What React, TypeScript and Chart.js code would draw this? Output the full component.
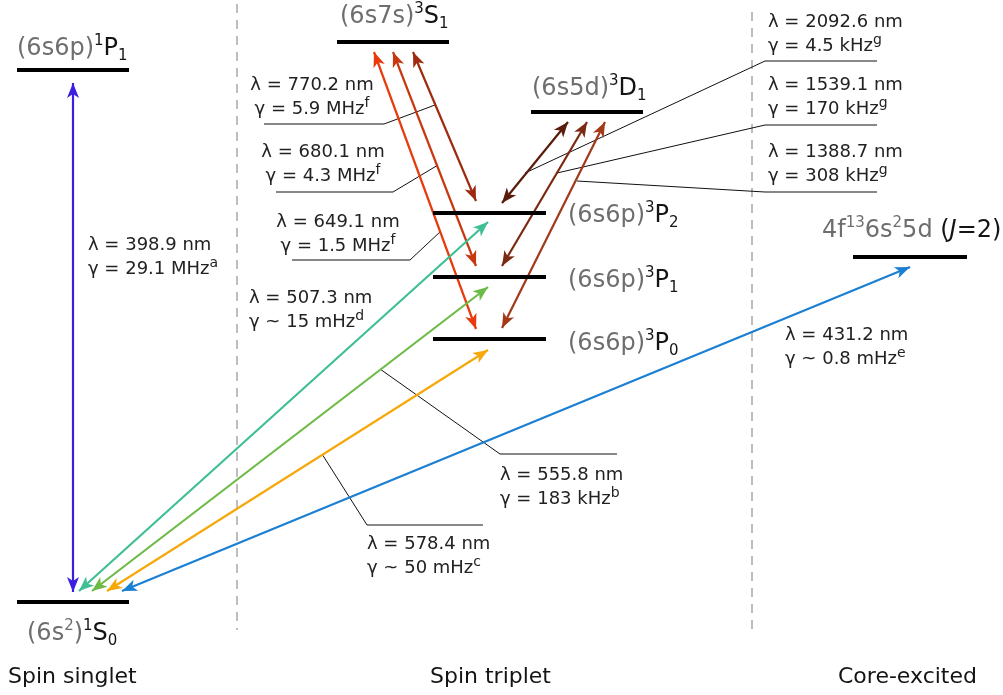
import React, { useEffect, useRef } from 'react';
import { Chart, registerables } from 'chart.js';

Chart.register(...registerables);

const FONT = '"DejaVu Sans", "Liberation Sans", sans-serif';
const GRAY = '#6e6e6e';
const INK = '#141414';
const NOTE_INK = '#222222';

// ---- Energy levels (diagram coordinates) ----
const levelKeys = ['1S0', '1P1', '3S1', '3D1', '3P2', '3P1', '3P0', 'core'];
const levelStart = [17, 17, 337, 531, 433, 433, 433, 853];
const levelEnd = [129, 129, 449, 643, 546, 546, 546, 967];
const levelY = [602, 70, 42, 112, 213, 277, 339, 257];

// ---- Transitions (double-headed arrows) ----
const transLambda = ['398.9', '507.3', '555.8', '578.4', '431.2', '649.1', '680.1', '770.2', '2092.6', '1539.1', '1388.7'];
const transColor = ['#3a1fe0', '#3fbf92', '#6dbb46', '#f6a80b', '#1b7fd3', '#e83a0c', '#c8380f', '#9e2a0f', '#5b1c0b', '#7b2911', '#a23a1a'];
const transX1 = [73, 79, 92, 107, 122, 374, 393, 413, 568, 587, 605];
const transY1 = [592, 591, 591, 591, 591, 52, 52, 52, 122, 122, 122];
const transX2 = [73, 488, 488, 488, 910, 476, 476, 476, 502, 502, 502];
const transY2 = [83, 222, 287, 350, 267, 329, 266, 201, 203, 266, 328];

// ---- Annotation texts ----
const noteLambda = ['λ = 398.9 nm', 'λ = 507.3 nm', 'λ = 555.8 nm', 'λ = 578.4 nm', 'λ = 431.2 nm', 'λ = 649.1 nm', 'λ = 680.1 nm', 'λ = 770.2 nm', 'λ = 2092.6 nm', 'λ = 1539.1 nm', 'λ = 1388.7 nm'];
const noteGamma = ['γ = 29.1 MHz', 'γ ~ 15 mHz', 'γ = 183 kHz', 'γ ~ 50 mHz', 'γ ~ 0.8 mHz', 'γ = 1.5 MHz', 'γ = 4.3 MHz', 'γ = 5.9 MHz', 'γ = 4.5 kHz', 'γ = 170 kHz', 'γ = 308 kHz'];
const noteRef = ['a', 'd', 'b', 'c', 'e', 'f', 'f', 'f', 'g', 'g', 'g'];
const noteX = [88, 249, 500, 367, 785, 338, 323, 312, 768, 768, 768];
const noteY = [250, 303, 480, 549, 340, 227, 157, 90, 27, 90, 157];
const noteAlign = ['left', 'left', 'left', 'left', 'left', 'center', 'center', 'center', 'left', 'left', 'left'];

// ---- Leader lines ----
const leaderX = [[264, 384, 435], [276, 393, 438], [292, 410, 441], [617, 500, 380], [483, 367, 322], [877, 765, 525], [877, 765, 557], [877, 765, 577]];
const leaderY = [[124, 124, 105], [192, 192, 165], [260, 260, 231], [454, 454, 369], [525, 525, 454], [61, 61, 173], [125, 125, 173], [192, 192, 181]];

// ---- Column separators ----
const dividerX = [237, 752];
const dividerTop = [4, 12];
const dividerBottom = [630, 630];

// ---- Column titles ----
const columnTitles = ['Spin singlet', 'Spin triplet', 'Core-excited'];
const columnTitleX = [8, 430, 838];
const columnTitleY = 683;

type Run = { t: string; c?: string; s?: 'sup' | 'sub'; i?: boolean };

const levelLabelRuns: Run[][] = [
  [{ t: '(6s', c: GRAY }, { t: '2', c: GRAY, s: 'sup' }, { t: ')', c: GRAY }, { t: '1', s: 'sup' }, { t: 'S' }, { t: '0', s: 'sub' }],
  [{ t: '(6s6p)', c: GRAY }, { t: '1', s: 'sup' }, { t: 'P' }, { t: '1', s: 'sub' }],
  [{ t: '(6s7s)', c: GRAY }, { t: '3', s: 'sup' }, { t: 'S' }, { t: '1', s: 'sub' }],
  [{ t: '(6s5d)', c: GRAY }, { t: '3', s: 'sup' }, { t: 'D' }, { t: '1', s: 'sub' }],
  [{ t: '(6s6p)', c: GRAY }, { t: '3', s: 'sup' }, { t: 'P' }, { t: '2', s: 'sub' }],
  [{ t: '(6s6p)', c: GRAY }, { t: '3', s: 'sup' }, { t: 'P' }, { t: '1', s: 'sub' }],
  [{ t: '(6s6p)', c: GRAY }, { t: '3', s: 'sup' }, { t: 'P' }, { t: '0', s: 'sub' }],
  [{ t: '4f', c: GRAY }, { t: '13', c: GRAY, s: 'sup' }, { t: '6s', c: GRAY }, { t: '2', c: GRAY, s: 'sup' }, { t: '5d', c: GRAY }, { t: ' (' }, { t: 'J', i: true }, { t: '=2)' }],
];
const levelLabelX = [27, 17, 340, 532, 568, 568, 568, 822];
const levelLabelY = [640, 55, 23, 95, 222, 287, 350, 237];

function drawRuns(ctx: CanvasRenderingContext2D, runs: Run[], x: number, y: number, size: number, align: string, base: string, supScale = 0.64) {
  const fontFor = (r: Run) => `${r.i ? 'italic ' : ''}${r.s ? Math.round(size * supScale) : size}px ${FONT}`;
  let w = 0;
  for (const r of runs) {
    ctx.font = fontFor(r);
    w += ctx.measureText(r.t).width;
  }
  let cx = align === 'center' ? x - w / 2 : x;
  ctx.textAlign = 'left';
  ctx.textBaseline = 'alphabetic';
  for (const r of runs) {
    ctx.font = fontFor(r);
    ctx.fillStyle = r.c || base;
    const dy = r.s === 'sup' ? -size * 0.4 : r.s === 'sub' ? size * 0.2 : 0;
    ctx.fillText(r.t, cx, y + dy);
    cx += ctx.measureText(r.t).width;
  }
}

function drawHead(ctx: CanvasRenderingContext2D, x: number, y: number, fx: number, fy: number, color: string) {
  const a = Math.atan2(y - fy, x - fx);
  const L = 15, W = 6, N = 11;
  ctx.save();
  ctx.translate(x, y);
  ctx.rotate(a);
  ctx.beginPath();
  ctx.moveTo(0, 0);
  ctx.lineTo(-L, -W);
  ctx.lineTo(-N, 0);
  ctx.lineTo(-L, W);
  ctx.closePath();
  ctx.fillStyle = color;
  ctx.fill();
  ctx.restore();
}

const arrowPlugin = {
  id: 'arrowHeads',
  afterDatasetsDraw(chart: any) {
    const ctx = chart.ctx;
    chart.data.datasets.forEach((ds: any, i: number) => {
      if (!ds.isArrow) return;
      const pts = chart.getDatasetMeta(i).data;
      if (pts.length < 2) return;
      const p0 = pts[0], p1 = pts[pts.length - 1];
      drawHead(ctx, p1.x, p1.y, p0.x, p0.y, ds.borderColor);
      drawHead(ctx, p0.x, p0.y, p1.x, p1.y, ds.borderColor);
    });
  },
};

const textPlugin = {
  id: 'diagramText',
  afterDraw(chart: any) {
    const ctx = chart.ctx;
    const sx = chart.scales.x, sy = chart.scales.y;
    ctx.save();
    levelLabelRuns.forEach((runs, i) => {
      drawRuns(ctx, runs, sx.getPixelForValue(levelLabelX[i]), sy.getPixelForValue(levelLabelY[i]), 24, 'left', INK);
    });
    noteLambda.forEach((lam, i) => {
      const x = sx.getPixelForValue(noteX[i]);
      const y = sy.getPixelForValue(noteY[i]);
      drawRuns(ctx, [{ t: lam }], x, y, 18, noteAlign[i], NOTE_INK);
      drawRuns(ctx, [{ t: noteGamma[i] }, { t: noteRef[i], s: 'sup' }], x, y + 24, 18, noteAlign[i], NOTE_INK, 0.78);
    });
    columnTitles.forEach((t, i) => {
      drawRuns(ctx, [{ t }], sx.getPixelForValue(columnTitleX[i]), sy.getPixelForValue(columnTitleY), 22, 'left', INK);
    });
    ctx.restore();
  },
};

export default function App() {
  const ref = useRef<HTMLCanvasElement | null>(null);
  useEffect(() => {
    if (!ref.current) return;
    const datasets: any[] = [];
    levelKeys.forEach((k, i) => {
      datasets.push({
        label: k,
        data: [{ x: levelStart[i], y: levelY[i] }, { x: levelEnd[i], y: levelY[i] }],
        borderColor: '#000000',
        borderWidth: 4,
        pointRadius: 0,
        showLine: true,
      });
    });
    transLambda.forEach((l, i) => {
      datasets.push({
        label: l + ' nm',
        isArrow: true,
        data: [{ x: transX1[i], y: transY1[i] }, { x: transX2[i], y: transY2[i] }],
        borderColor: transColor[i],
        borderWidth: 2.2,
        pointRadius: 0,
        showLine: true,
      });
    });
    leaderX.forEach((xs, i) => {
      datasets.push({
        label: 'leader' + i,
        data: xs.map((x, j) => ({ x, y: leaderY[i][j] })),
        borderColor: '#111111',
        borderWidth: 1,
        pointRadius: 0,
        showLine: true,
      });
    });
    dividerX.forEach((x, i) => {
      datasets.push({
        label: 'divider' + i,
        data: [{ x, y: dividerTop[i] }, { x, y: dividerBottom[i] }],
        borderColor: '#a8a8a8',
        borderWidth: 1.5,
        borderDash: [9, 7],
        pointRadius: 0,
        showLine: true,
      });
    });
    const chart = new Chart(ref.current, {
      type: 'scatter',
      data: { datasets },
      options: {
        responsive: false,
        animation: false,
        devicePixelRatio: 1,
        layout: { padding: 0 },
        plugins: { legend: { display: false }, tooltip: { enabled: false } },
        scales: {
          x: { type: 'linear', min: 0, max: 1003, display: false },
          y: { type: 'linear', min: 0, max: 695, reverse: true, display: false },
        },
        elements: { line: { tension: 0, borderCapStyle: 'butt' } },
      },
      plugins: [arrowPlugin, textPlugin],
    } as any);
    return () => chart.destroy();
  }, []);
  return (
    <div style={{ position: 'absolute', left: 0, top: 0, width: 1003, height: 695, background: '#ffffff' }}>
      <canvas ref={ref} width={1003} height={695} style={{ display: 'block' }} />
    </div>
  );
}
